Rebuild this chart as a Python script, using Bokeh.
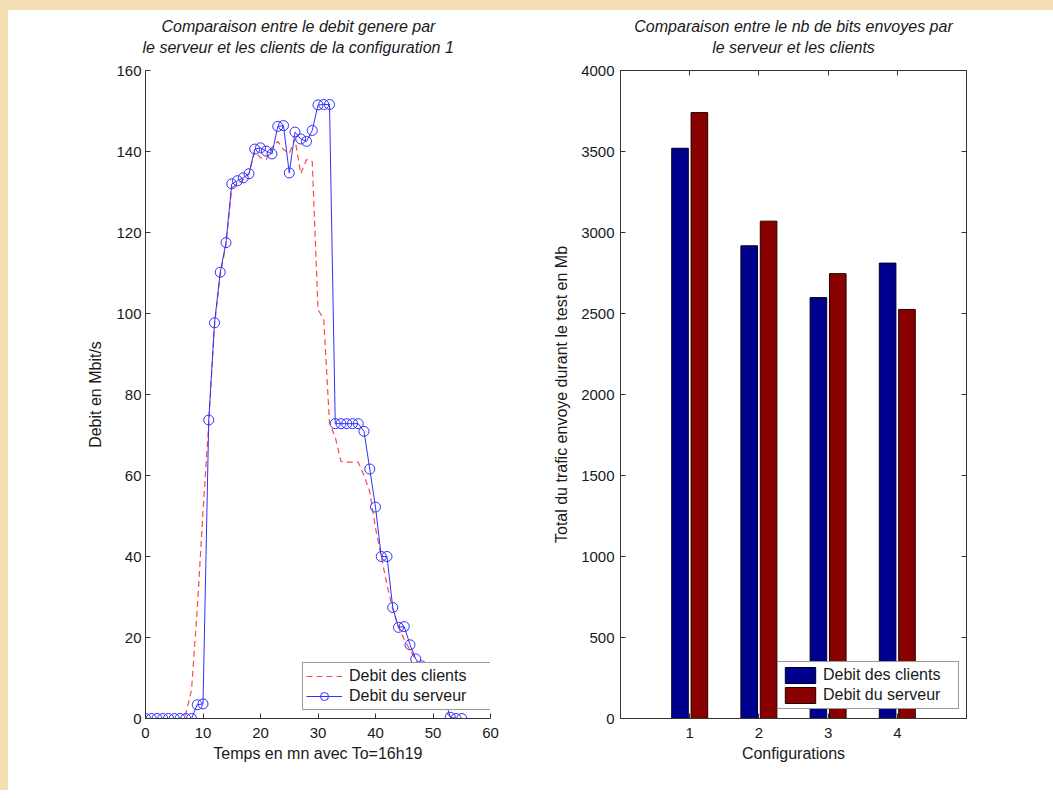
import numpy as np
from bokeh.plotting import figure
from bokeh.layouts import row, column
from bokeh.models import Range1d, FixedTicker, LinearAxis, Legend, LegendItem, Title, Spacer
from bokeh.embed import file_html
from bokeh.resources import INLINE

# ---------------- data ----------------
time_min = [0, 1, 2, 3, 4, 5, 6, 7, 8, 9, 10, 11, 12, 13, 14, 15, 16, 17, 18, 19,
            20, 21, 22, 23, 24, 25, 26, 27, 28, 29, 30, 31, 32, 33, 34, 35, 36, 37, 38, 39,
            40, 41, 42, 43, 44, 45, 46, 47, 48, 49, 50, 51, 52, 53, 54, 55]

debit_clients = [0, 0, 0, 0, 0, 0, 0, 1, 7, 27, 51, 73, 97, 109.5, 117, 131, 132, 133, 134.5, 140,
                 138.5, 138, 141, 142.5, 140.5, 139.5, 143, 134.5, 138, 137.5, 101, 98.5, 73, 69.5, 63.5, 63.3, 63.3, 63.3, 60, 56,
                 47, 40, 33, 27, 22.5, 19.5, 17, 14.5, 12, 9, 6.5, 4, 2, 0.5, 0, 0]

debit_serveur = [0, 0, 0, 0, 0, 0, 0, 0, 0, 3.4, 3.6, 73.7, 97.7, 110.2, 117.5, 132, 132.8, 133.5, 134.5, 140.6,
                 140.9, 140.1, 139.4, 146.2, 146.4, 134.7, 144.8, 143.1, 142.5, 145.2, 151.5, 151.6, 151.6, 72.8, 72.8, 72.8, 72.8, 72.8, 70.9, 61.6,
                 52.2, 40, 40, 27.4, 22.5, 22.7, 18.2, 14.7, 13, 11, 9, 7, 5, 0.3, 0, 0]

configurations = [1, 2, 3, 4]
total_clients = [3520, 2918, 2598, 2811]
total_serveur = [3740, 3070, 2746, 2525]

x_ticks_left = [0, 10, 20, 30, 40, 50, 60]
y_ticks_left = [0, 20, 40, 60, 80, 100, 120, 140, 160]
y_ticks_right = [0, 500, 1000, 1500, 2000, 2500, 3000, 3500, 4000]

FONT = "Liberation Sans"
AX = "#333333"
TXT = "#1a1a1a"
BLUE = "#3030ff"
RED = "#ff4848"
BAR_BLUE = "#00008F"
BAR_RED = "#880000"
BEIGE = "#F5DEB3"


def style_axis(ax, standoff, label_standoff):
    ax.major_tick_in = 5
    ax.major_tick_out = 0
    ax.minor_tick_in = 0
    ax.minor_tick_out = 0
    ax.axis_line_color = AX
    ax.major_tick_line_color = AX
    ax.major_label_text_font = FONT
    ax.major_label_text_font_size = "15px"
    ax.major_label_text_color = TXT
    ax.major_label_standoff = standoff
    ax.axis_label_text_font = FONT
    ax.axis_label_text_font_size = "16px"
    ax.axis_label_text_font_style = "normal"
    ax.axis_label_text_color = TXT
    ax.axis_label_standoff = label_standoff


def add_gap(p, size, tick):
    # invisible axis used only to leave a gap between the frame and the titles
    p.add_layout(LinearAxis(ticker=FixedTicker(ticks=[tick]), major_tick_in=0, major_tick_out=size,
                            minor_tick_in=0, minor_tick_out=0, axis_line_color=None,
                            major_tick_line_color=None, major_label_text_color=None,
                            major_label_text_font_size="0px", major_label_standoff=0), "above")


def add_title(p, text, align, offset):
    p.add_layout(Title(text=text, align=align, offset=offset, standoff=2,
                       text_font=FONT, text_font_style="italic", text_font_size="16px",
                       text_color=TXT, text_line_height=1.0), "above")


# ---------------- left plot ----------------
p1 = figure(width=522, height=780, x_range=Range1d(0, 60), y_range=Range1d(0, 160),
            output_backend="svg", toolbar_location=None,
            min_border_left=137, min_border_right=40, min_border_top=60, min_border_bottom=72)
p1.outline_line_color = None
p1.grid.grid_line_color = None
p1.background_fill_color = "white"
p1.border_fill_color = "white"

p1.xaxis.ticker = FixedTicker(ticks=x_ticks_left)
p1.yaxis.ticker = FixedTicker(ticks=y_ticks_left)
p1.xaxis.axis_label = "Temps en mn avec To=16h19"
p1.yaxis.axis_label = "Debit en Mbit/s"
style_axis(p1.xaxis[0], 9, 4)
style_axis(p1.yaxis[0], 4, 9)

r_red = p1.line(time_min, debit_clients, line_color=RED, line_width=1.2, line_dash="6 4")
r_blue = p1.line(time_min, debit_serveur, line_color=BLUE, line_width=1)
r_circ = p1.scatter(time_min, debit_serveur, marker="circle", size=10, fill_color=None,
                    line_color=BLUE, line_width=1)

leg1 = Legend(items=[LegendItem(label="Debit des clients", renderers=[r_red]),
                     LegendItem(label="Debit du serveur", renderers=[r_blue, r_circ])],
              location=(157, 8), padding=3, spacing=0, margin=0,
              label_height=20, glyph_height=20, glyph_width=36, label_standoff=7, label_width=141,
              label_text_font=FONT, label_text_font_size="16px", label_text_color=TXT,
              border_line_color=AX, border_line_width=1, background_fill_color="white",
              background_fill_alpha=1)
p1.add_layout(leg1)

add_gap(p1, 14, 30)
add_title(p1, "le serveur et les clients de la configuration 1", "left", -3)
add_title(p1, "Comparaison entre le debit genere par", "left", 16)

# ---------------- right plot ----------------
p2 = figure(width=515, height=780, x_range=Range1d(0, 5), y_range=Range1d(0, 4000),
            output_backend="svg", toolbar_location=None,
            min_border_left=90, min_border_right=79, min_border_top=60, min_border_bottom=72)
p2.outline_line_color = AX
p2.grid.grid_line_color = None
p2.background_fill_color = "white"
p2.border_fill_color = "white"

p2.xaxis.ticker = FixedTicker(ticks=configurations)
p2.yaxis.ticker = FixedTicker(ticks=y_ticks_right)
p2.xaxis.axis_label = "Configurations"
p2.yaxis.axis_label = "Total du trafic envoye durant le test en Mb"
style_axis(p2.xaxis[0], 9, 4)
style_axis(p2.yaxis[0], 6, 8)

top_ax = LinearAxis(ticker=FixedTicker(ticks=configurations), major_tick_in=5, major_tick_out=0,
                    minor_tick_in=0, minor_tick_out=0, axis_line_color=None,
                    major_tick_line_color=AX, major_label_text_color=None,
                    major_label_text_font_size="0px", major_label_standoff=0)
right_ax = LinearAxis(ticker=FixedTicker(ticks=y_ticks_right), major_tick_in=5, major_tick_out=0,
                      minor_tick_in=0, minor_tick_out=0, axis_line_color=None,
                      major_tick_line_color=AX, major_label_text_color=None,
                      major_label_text_font_size="0px", major_label_standoff=0)
p2.add_layout(top_ax, "above")
p2.add_layout(right_ax, "right")

cfg = np.array(configurations, dtype=float)
b1 = p2.vbar(x=cfg - 0.14, top=total_clients, width=0.24, bottom=0,
             fill_color=BAR_BLUE, line_color="#000020", line_width=1)
b2 = p2.vbar(x=cfg + 0.14, top=total_serveur, width=0.24, bottom=0,
             fill_color=BAR_RED, line_color="#200000", line_width=1)

leg2 = Legend(items=[LegendItem(label="Debit des clients", renderers=[b1]),
                     LegendItem(label="Debit du serveur", renderers=[b2])],
              location=(157, 9), padding=3, spacing=0, margin=0,
              label_height=19, glyph_height=20, glyph_width=38, label_standoff=4, label_width=132,
              label_text_font=FONT, label_text_font_size="16px", label_text_color=TXT,
              border_line_color=AX, border_line_width=1, background_fill_color="white",
              background_fill_alpha=1)
p2.add_layout(leg2)

add_gap(p2, 14, 2.5)
add_title(p2, "le serveur et les clients", "center", 0)
add_title(p2, "Comparaison entre le nb de bits envoyes par", "center", 0)

# ---------------- page ----------------
top_strip = Spacer(width=1053, height=10, styles={"background-color": BEIGE})
left_strip = Spacer(width=8, height=780, styles={"background-color": BEIGE})
layout = column(top_strip, row(left_strip, p1, p2, spacing=0), spacing=0)
open("out.html", "w").write(file_html(layout, INLINE))
